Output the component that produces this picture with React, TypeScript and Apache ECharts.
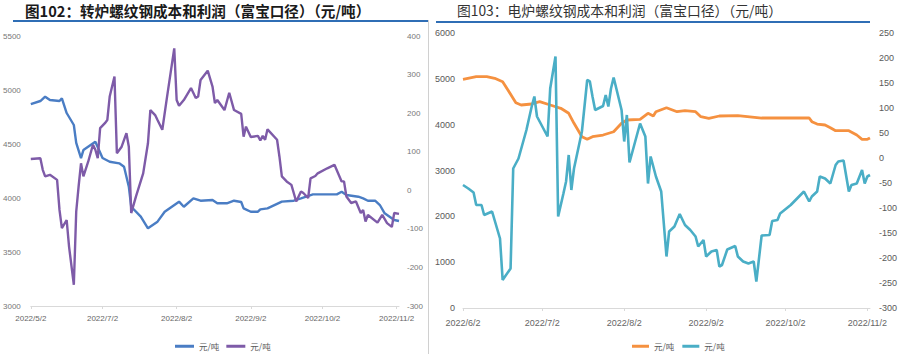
import React, { useEffect, useRef } from "react";
import * as echarts from "echarts";

// ---------- Left chart (图102 转炉) ----------
const leftCostDates = [
  "2022-06-02", "2022-06-06", "2022-06-08", "2022-06-10", "2022-06-14", "2022-06-15", "2022-06-17",
  "2022-06-20", "2022-06-21", "2022-06-23", "2022-06-24", "2022-06-29", "2022-07-02", "2022-07-05",
  "2022-07-09", "2022-07-11", "2022-07-13", "2022-07-14", "2022-07-18", "2022-07-21", "2022-07-25",
  "2022-07-28", "2022-08-03", "2022-08-05", "2022-08-09", "2022-08-12", "2022-08-17", "2022-08-19",
  "2022-08-23", "2022-08-26", "2022-08-29", "2022-08-30", "2022-09-02", "2022-09-05", "2022-09-06",
  "2022-09-09", "2022-09-15", "2022-09-20", "2022-09-23", "2022-09-28", "2022-10-08", "2022-10-10",
  "2022-10-12", "2022-10-17", "2022-10-19", "2022-10-21", "2022-10-24", "2022-10-26", "2022-10-28",
  "2022-11-01", "2022-11-03",
];
const leftCost = [
  4870, 4898, 4938, 4907, 4898, 4923, 4787,
  4676, 4510, 4370, 4444, 4521, 4370, 4336,
  4321, 4290, 4105, 3919, 3827, 3719, 3781,
  3873, 3966, 3919, 3997, 3975, 3981, 3951,
  3951, 3975, 3963, 3904, 3873, 3873, 3895,
  3904, 3966, 3975, 3997, 4034, 4034, 4058,
  4028, 4012, 3997, 3975, 3975, 3935, 3858,
  3796, 3787,
];
const leftProfitDates = [
  "2022-06-02", "2022-06-06", "2022-06-07", "2022-06-08", "2022-06-10", "2022-06-13", "2022-06-14",
  "2022-06-15", "2022-06-17", "2022-06-18", "2022-06-20", "2022-06-21", "2022-06-22", "2022-06-23",
  "2022-06-24", "2022-06-26", "2022-06-28", "2022-06-29", "2022-06-30", "2022-07-01", "2022-07-03",
  "2022-07-04", "2022-07-05", "2022-07-07", "2022-07-08", "2022-07-10", "2022-07-12", "2022-07-13",
  "2022-07-14", "2022-07-16", "2022-07-19", "2022-07-21", "2022-07-22", "2022-07-24", "2022-07-25",
  "2022-07-27", "2022-07-29", "2022-08-01", "2022-08-02", "2022-08-03", "2022-08-05", "2022-08-08",
  "2022-08-10", "2022-08-11", "2022-08-12", "2022-08-15", "2022-08-17", "2022-08-18", "2022-08-19",
  "2022-08-22", "2022-08-24", "2022-08-26", "2022-08-29", "2022-08-30", "2022-08-31", "2022-09-02",
  "2022-09-05", "2022-09-06", "2022-09-07", "2022-09-08", "2022-09-09", "2022-09-13", "2022-09-14",
  "2022-09-15", "2022-09-17", "2022-09-19", "2022-09-21", "2022-09-23", "2022-09-24", "2022-09-26",
  "2022-09-27", "2022-09-29", "2022-09-30", "2022-10-04", "2022-10-07", "2022-10-10", "2022-10-11",
  "2022-10-12", "2022-10-14", "2022-10-16", "2022-10-18", "2022-10-19", "2022-10-20", "2022-10-21",
  "2022-10-25", "2022-10-27", "2022-10-29", "2022-10-31", "2022-11-01", "2022-11-03",
];
const leftProfit = [
  81, 83, 53, 36, 40, 27, -51,
  -98, -77, -146, -245, -55, 10, 70,
  36, 74, 118, 105, 83, 161, 174,
  182, 243, 295, 96, 113, 148, 113,
  -59, -16, 44, 122, 208, 195, 182,
  157, 243, 368, 234, 219, 234, 265,
  239, 243, 286, 310, 269, 226, 234,
  208, 253, 208, 198, 139, 165, 138,
  141, 129, 141, 131, 158, 131, 87,
  36, 23, 14, -29, -3, -7, -20,
  31, 37, 44, 57, 66, 23, 23,
  -16, -33, -29, -59, -51, -81, -64,
  -84, -64, -85, -95, -59, -61,
];
const leftTickDates = ["2022-06-02", "2022-07-02", "2022-08-02", "2022-09-02", "2022-10-02", "2022-11-02"];
const leftTickLabels = ["2022/5/2", "2022/7/2", "2022/8/2", "2022/9/2", "2022/10/2", "2022/11/2"];

// ---------- Right chart (图103 电炉) ----------
const rightCostDates = [
  "2022-06-02", "2022-06-07", "2022-06-11", "2022-06-14", "2022-06-17", "2022-06-19", "2022-06-22",
  "2022-06-24", "2022-06-28", "2022-07-01", "2022-07-05", "2022-07-09", "2022-07-12", "2022-07-14",
  "2022-07-17", "2022-07-19", "2022-07-21", "2022-07-25", "2022-07-29", "2022-08-01", "2022-08-03",
  "2022-08-08", "2022-08-11", "2022-08-13", "2022-08-14", "2022-08-18", "2022-08-22", "2022-08-25",
  "2022-08-29", "2022-08-31", "2022-09-03", "2022-09-07", "2022-09-14", "2022-09-23", "2022-10-11",
  "2022-10-12", "2022-10-14", "2022-10-17", "2022-10-19", "2022-10-21", "2022-10-26", "2022-10-29",
  "2022-10-31", "2022-11-02", "2022-11-03",
];
const rightCost = [
  4990, 5047, 5047, 5012, 4937, 4756, 4479,
  4429, 4451, 4501, 4429, 4357, 4248, 4030,
  3737, 3681, 3737, 3774, 3846, 4030, 4102,
  4117, 4248, 4189, 4283, 4370, 4283, 4305,
  4283, 4174, 4138, 4189, 4196, 4145, 4145,
  4065, 4014, 3993, 3934, 3868, 3868, 3774,
  3681, 3681, 3710,
];
const rightProfitDates = [
  "2022-06-02", "2022-06-04", "2022-06-06", "2022-06-07", "2022-06-09", "2022-06-10", "2022-06-13",
  "2022-06-16", "2022-06-17", "2022-06-20", "2022-06-21", "2022-06-23", "2022-06-26", "2022-06-28",
  "2022-06-29", "2022-06-30", "2022-07-02", "2022-07-04", "2022-07-05", "2022-07-07", "2022-07-08",
  "2022-07-10", "2022-07-11", "2022-07-12", "2022-07-13", "2022-07-14", "2022-07-17", "2022-07-19",
  "2022-07-20", "2022-07-21", "2022-07-22", "2022-07-25", "2022-07-26", "2022-07-27", "2022-07-28",
  "2022-07-29", "2022-08-01", "2022-08-02", "2022-08-03", "2022-08-04", "2022-08-08", "2022-08-10",
  "2022-08-11", "2022-08-12", "2022-08-14", "2022-08-16", "2022-08-18", "2022-08-19", "2022-08-21",
  "2022-08-23", "2022-08-25", "2022-08-27", "2022-08-29", "2022-08-30", "2022-09-01", "2022-09-02",
  "2022-09-04", "2022-09-06", "2022-09-07", "2022-09-08", "2022-09-10", "2022-09-13", "2022-09-14",
  "2022-09-16", "2022-09-18", "2022-09-20", "2022-09-21", "2022-09-23", "2022-09-26", "2022-09-27",
  "2022-09-29", "2022-09-30", "2022-10-04", "2022-10-09", "2022-10-11", "2022-10-12", "2022-10-14",
  "2022-10-15", "2022-10-17", "2022-10-19", "2022-10-21", "2022-10-22", "2022-10-24", "2022-10-26",
  "2022-10-27", "2022-10-29", "2022-10-31", "2022-11-01", "2022-11-02", "2022-11-03",
];
const rightProfit = [
  -54, -61, -69, -94, -94, -114, -107,
  -161, -244, -221, -21, -1, 56, 103,
  123, 83, 63, 43, 139, 203, -117,
  -71, -47, 6, -64, -21, 53, 156,
  153, 123, 96, 104, 126, 103, 139,
  161, 96, 33, 86, -9, 69, 43,
  -51, 3, -37, -67, -197, -147, -137,
  -112, -134, -144, -157, -177, -164, -197,
  -187, -184, -217, -214, -183, -176, -197,
  -207, -211, -207, -247, -155, -154, -126,
  -124, -111, -94, -67, -87, -77, -67,
  -37, -41, -51, -14, -7, -5, -67,
  -54, -51, -24, -51, -37, -34,
];
const rightTickDates = ["2022-06-02", "2022-07-02", "2022-08-02", "2022-09-02", "2022-10-02", "2022-11-02"];
const rightTickLabels = ["2022/6/2", "2022/7/2", "2022/8/2", "2022/9/2", "2022/10/2", "2022/11/2"];

const axisStartDate = "2022-06-02";
const axisEndDate = "2022-11-03";

const leftTitle = "图102：转炉螺纹钢成本和利润（富宝口径）（元/吨）";
const rightTitle = "图103：电炉螺纹钢成本和利润（富宝口径）（元/吨）";
const legendLabel = "元/吨";

const CJK = '"Noto Sans CJK SC", "Noto Sans", sans-serif';
const NUM = '"Liberation Sans", "DejaVu Sans", sans-serif';

const DAY = 86400000;
function dayOf(d: string) {
  return Math.round((Date.parse(d + "T00:00:00Z") - Date.parse(axisStartDate + "T00:00:00Z")) / DAY);
}

function pairs(dates: string[], vals: number[]) {
  return dates.map((d, i) => [dayOf(d), vals[i]]);
}

function makeX(gridIndex: number, tickDates: string[], labels: string[], fontSize: number, margin: number) {
  const ticks = tickDates.map(dayOf);
  return {
    type: "value",
    gridIndex,
    min: dayOf(axisStartDate),
    max: dayOf(axisEndDate),
    splitLine: { show: false },
    axisLine: { show: true, onZero: false, lineStyle: { color: "#d9d9d9", width: 1 } },
    axisTick: { show: true, customValues: ticks, length: 3, lineStyle: { color: "#d9d9d9" } },
    axisLabel: {
      customValues: ticks,
      margin,
      fontSize,
      color: "#666",
      fontFamily: NUM,
      showMinLabel: true,
      showMaxLabel: true,
      formatter: (v: number) => {
        const i = ticks.indexOf(Math.round(v));
        return i >= 0 ? labels[i] : "";
      },
    },
  };
}

function makeY(gridIndex: number, min: number, max: number, interval: number, position: string, fontSize: number, margin: number, color: string) {
  return {
    type: "value",
    gridIndex,
    min,
    max,
    interval,
    position,
    splitLine: { show: false },
    axisLine: { show: false, onZero: false },
    axisTick: { show: false },
    axisLabel: { fontSize, color, fontFamily: NUM, margin, formatter: (v: number) => String(v) },
  };
}

export default function App() {
  const ref = useRef<HTMLDivElement>(null);
  useEffect(() => {
    if (!ref.current) return;
    const chart = echarts.init(ref.current, undefined, { renderer: "svg" });
    chart.setOption({
      animation: false,
      backgroundColor: "#ffffff",
      grid: [
        { left: 28, top: 36, width: 371, height: 270 },
        { left: 463, top: 33, width: 410, height: 275 },
      ],
      xAxis: [
        makeX(0, leftTickDates, leftTickLabels, 8, 8),
        makeX(1, rightTickDates, rightTickLabels, 9, 10),
      ],
      yAxis: [
        makeY(0, 3000, 5500, 500, "left", 8, 10, "#777"),
        makeY(0, -300, 400, 100, "right", 8, 8, "#777"),
        makeY(1, 0, 6000, 1000, "left", 9, 8, "#595959"),
        makeY(1, -300, 250, 50, "right", 9, 9, "#595959"),
      ],
      legend: [
        {
          data: ["leftCost", "leftProfit"],
          left: 170,
          top: 337,
          icon: "rect",
          itemWidth: 19,
          itemHeight: 3,
          itemGap: 7,
          formatter: () => legendLabel,
          textStyle: { fontSize: 8.5, color: "#595959", fontFamily: CJK },
        },
        {
          data: ["rightCost", "rightProfit"],
          left: 627,
          top: 337,
          icon: "rect",
          itemWidth: 17,
          itemHeight: 3,
          itemGap: 8,
          formatter: () => legendLabel,
          textStyle: { fontSize: 8.5, color: "#595959", fontFamily: CJK },
        },
      ],
      graphic: [
        {
          type: "text",
          left: 25,
          top: 3,
          style: { text: leftTitle, font: `bold 14.6px ${CJK}`, fill: "#1a1a1a" },
        },
        {
          type: "text",
          left: 457,
          top: 3,
          style: { text: rightTitle, font: `13.8px ${CJK}`, fill: "#333" },
        },
        { type: "line", shape: { x1: 13, y1: 21, x2: 428, y2: 21 }, style: { stroke: "#2f6eb5", lineWidth: 2 } },
        { type: "line", shape: { x1: 436, y1: 22, x2: 870, y2: 22 }, style: { stroke: "#2f6eb5", lineWidth: 2 } },
        { type: "line", shape: { x1: 428.5, y1: 20, x2: 428.5, y2: 354 }, style: { stroke: "#d0d0d0", lineWidth: 1 } },
      ],
      series: [
        {
          name: "leftCost", type: "line", xAxisIndex: 0, yAxisIndex: 0, showSymbol: false,
          data: pairs(leftCostDates, leftCost), color: "#4a7dc4", lineStyle: { width: 2.4, color: "#4a7dc4" },
        },
        {
          name: "leftProfit", type: "line", xAxisIndex: 0, yAxisIndex: 1, showSymbol: false,
          data: pairs(leftProfitDates, leftProfit), color: "#7e5ba8", lineStyle: { width: 2.4, color: "#7e5ba8" },
        },
        {
          name: "rightCost", type: "line", xAxisIndex: 1, yAxisIndex: 2, showSymbol: false,
          data: pairs(rightCostDates, rightCost), color: "#f59140", lineStyle: { width: 2.8, color: "#f59140" },
        },
        {
          name: "rightProfit", type: "line", xAxisIndex: 1, yAxisIndex: 3, showSymbol: false,
          data: pairs(rightProfitDates, rightProfit), color: "#4aaec6", lineStyle: { width: 2.6, color: "#4aaec6" },
        },
      ],
    });
    return () => chart.dispose();
  }, []);
  return (
    <div
      ref={ref}
      style={{ position: "fixed", left: 0, top: 0, width: 900, height: 354, background: "#fff" }}
    />
  );
}
